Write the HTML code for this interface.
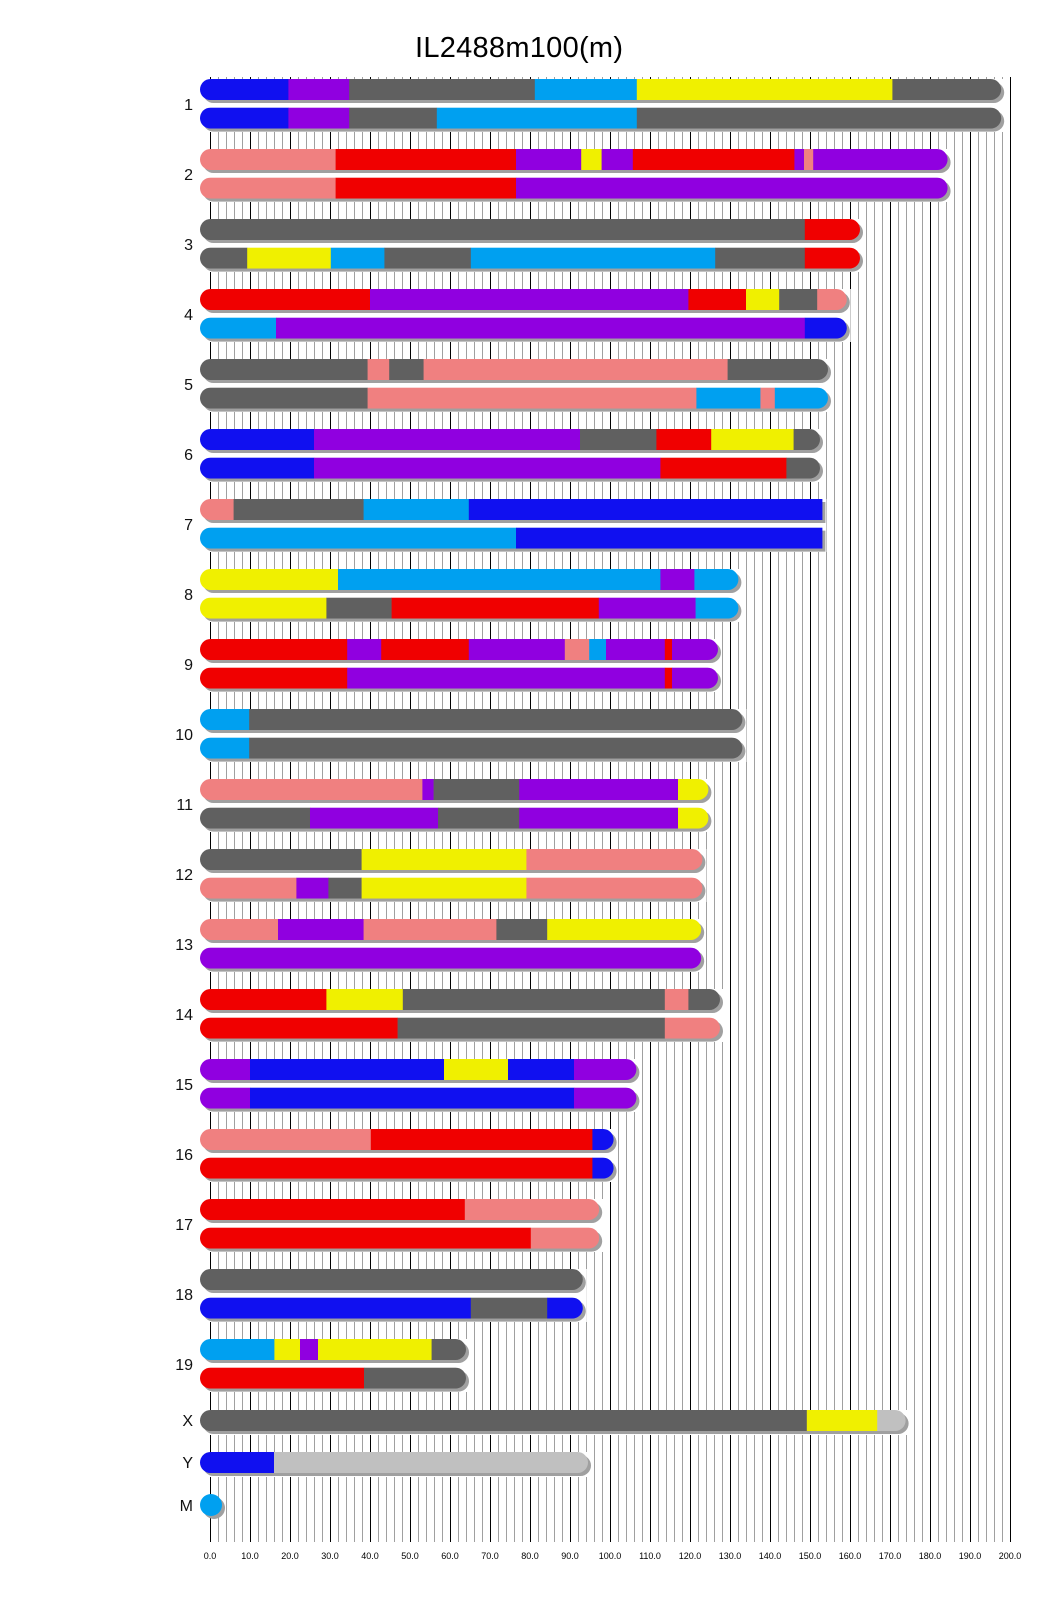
<!DOCTYPE html>
<html><head><meta charset="utf-8"><style>body{margin:0;background:#fff}svg{display:block}</style></head>
<body>
<svg id="s" width="1040" height="1616" xmlns="http://www.w3.org/2000/svg" font-family="Liberation Sans, sans-serif">
<rect width="1040" height="1616" fill="#fff"/>
<g id="grid"></g>
<g id="bars"></g>
<text x="519" y="57" font-size="29" text-anchor="middle" textLength="208" fill="#000">IL2488m100(m)</text>
<g font-size="16" text-anchor="end" fill="#111">
<text x="193" y="110">1</text><text x="193" y="180">2</text><text x="193" y="250">3</text><text x="193" y="320">4</text>
<text x="193" y="390">5</text><text x="193" y="460">6</text><text x="193" y="530">7</text><text x="193" y="600">8</text>
<text x="193" y="670">9</text><text x="193" y="740">10</text><text x="193" y="810">11</text><text x="193" y="880">12</text>
<text x="193" y="950">13</text><text x="193" y="1020">14</text><text x="193" y="1090">15</text><text x="193" y="1160">16</text>
<text x="193" y="1230">17</text><text x="193" y="1300">18</text><text x="193" y="1370">19</text>
<text x="193" y="1426">X</text><text x="193" y="1468">Y</text><text x="193" y="1511">M</text>
</g>
<g font-size="9" text-anchor="middle" fill="#000">
<text x="210" y="1559">0.0</text><text x="250" y="1559">10.0</text><text x="290" y="1559">20.0</text><text x="330" y="1559">30.0</text>
<text x="370" y="1559">40.0</text><text x="410" y="1559">50.0</text><text x="450" y="1559">60.0</text><text x="490" y="1559">70.0</text>
<text x="530" y="1559">80.0</text><text x="570" y="1559">90.0</text><text x="610" y="1559">100.0</text><text x="650" y="1559">110.0</text>
<text x="690" y="1559">120.0</text><text x="730" y="1559">130.0</text><text x="770" y="1559">140.0</text><text x="810" y="1559">150.0</text>
<text x="850" y="1559">160.0</text><text x="890" y="1559">170.0</text><text x="930" y="1559">180.0</text><text x="970" y="1559">190.0</text>
<text x="1010" y="1559">200.0</text>
</g>
</svg>
<script>
var NS="http://www.w3.org/2000/svg";
function el(p,t,a){var e=document.createElementNS(NS,t);for(var k in a)e.setAttribute(k,a[k]);p.appendChild(e);return e;}
var C={b:"#1010f0",p:"#9000e0",g:"#606060",l:"#00a0f0",y:"#f0f000",r:"#f00000",k:"#f08080",s:"#c0c0c0"};
var grid=document.getElementById("grid"),bars=document.getElementById("bars"),defs=el(document.getElementById("s"),"defs",{});
for(var u=0;u<=200;u+=2){var x=210+u*4+0.5;el(grid,"line",{x1:x,x2:x,y1:77,y2:1542,stroke:u%10==0?"#000":"#a0a0a0","stroke-width":1});}
var H=21,R=10.5,cid=0;
function X(u){return 210+u*4;}
function bar(y,L,segs,sq){
  var x0=X(0)-10,x1=X(L)+(sq?0:10);
  var d=sq?("M"+(x0+R)+","+y+"H"+x1+"V"+(y+H)+"H"+(x0+R)+"A"+R+","+R+" 0 0 1 "+(x0+R)+","+y+"Z"):null;
  if(sq){el(bars,"path",{d:d,fill:"#a0a0a0",transform:"translate(3,3)"});}
  else el(bars,"rect",{x:x0+3,y:y+3,width:x1-x0,height:H,rx:R,fill:"#a0a0a0"});
  var id="c"+(cid++),cp=el(defs,"clipPath",{id:id});
  if(sq)el(cp,"path",{d:d});else el(cp,"rect",{x:x0,y:y,width:x1-x0,height:H,rx:R});
  var g=el(bars,"g",{"clip-path":"url(#"+id+")"}),prev=-5;
  for(var i=0;i<segs.length;i+=2){var e=i+2<segs.length?segs[i+1]:L+5;
    var a=i==0?x0:X(prev),b=i+2<segs.length?X(e):x1;
    el(g,"rect",{x:a,y:y,width:b-a+0.3,height:H,fill:C[segs[i]]});prev=e;}
}
var D=[
[195.3,["b",19.6,"p",34.8,"g",81.2,"l",106.7,"y",170.6,"g",0],["b",19.6,"p",34.8,"g",56.7,"l",106.7,"g",0]],
[181.9,["k",31.4,"r",76.5,"p",92.8,"y",97.9,"p",105.7,"r",146.1,"p",148.5,"k",150.8,"p",0],["k",31.4,"r",76.5,"p",0]],
[160,["g",148.7,"r",0],["g",9.3,"y",30.2,"l",43.6,"g",65.2,"l",126.3,"g",148.7,"r",0]],
[156.7,["r",40,"p",119.6,"r",134,"y",142.3,"g",151.8,"k",0],["l",16.5,"p",148.7,"b",0]],
[152,["g",39.4,"k",44.8,"g",53.4,"k",129.4,"g",0],["g",39.4,"k",121.6,"l",137.6,"k",141.2,"l",0]],
[150,["b",26,"p",92.5,"g",111.6,"r",125.3,"y",145.9,"g",0],["b",26,"p",112.6,"r",144.1,"g",0]],
[153.1,["k",5.9,"g",38.4,"l",64.7,"b",0],["l",76.5,"b",0],1],
[129.6,["y",32,"l",112.6,"p",121.1,"l",0],["y",29.1,"g",45.4,"r",97.2,"p",121.4,"l",0]],
[124.5,["r",34.3,"p",42.8,"r",64.7,"p",88.7,"k",94.8,"l",99,"p",113.7,"r",115.5,"p",0],["r",34.3,"p",113.7,"r",115.5,"p",0]],
[130.6,["l",9.8,"g",0],["l",9.8,"g",0]],
[122.1,["k",53.1,"p",55.9,"g",77.3,"p",117,"y",0],["g",25,"p",57,"g",77.3,"p",117,"y",0]],
[120.6,["g",37.9,"y",79.1,"k",0],["k",21.6,"p",29.6,"g",37.9,"y",79.1,"k",0]],
[120.3,["k",17,"p",38.4,"k",71.6,"g",84.3,"y",0],["p",0]],
[125,["r",29.1,"y",48.2,"g",113.7,"k",119.6,"g",0],["r",46.9,"g",113.7,"k",0]],
[104.1,["p",10,"b",58.5,"y",74.5,"b",91,"p",0],["p",10,"b",91,"p",0]],
[98.4,["k",40.2,"r",95.6,"b",0],["r",95.6,"b",0]],
[94.8,["r",63.7,"k",0],["r",80.2,"k",0]],
[90.7,["g",0],["b",65.2,"g",84.3,"b",0]],
[61.5,["l",16.1,"y",22.5,"p",27,"y",55.4,"g",0],["r",38.5,"g",0]]
];
for(var i=0;i<D.length;i++){var y=79+i*70,L=D[i][0],sq=D[i][3];
  el(bars,"rect",{x:199,y:y,width:X(L)+(sq?0:10)-199+4,height:53,fill:"#fff"});
  bar(y,L,D[i][1],sq);bar(y+28.6,L,D[i][2],sq);}
el(bars,"rect",{x:199,y:1410,width:X(171.4)+14-199,height:25,fill:"#fff"});
bar(1410,171.4,["g",149.2,"y",166.8,"s",0]);
el(bars,"rect",{x:199,y:1452,width:X(92)+14-199,height:25,fill:"#fff"});
bar(1452,92,["b",16,"s",0]);
el(bars,"circle",{cx:214,cy:1508,r:11,fill:"#a0a0a0"});
el(bars,"circle",{cx:211,cy:1505,r:11,fill:C.l});
</script>
</body></html>
